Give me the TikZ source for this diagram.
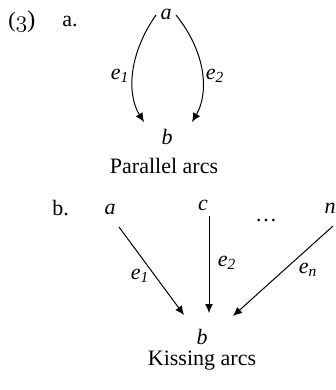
\documentclass[tikz,border=0pt]{standalone}
\usepackage{fontspec}
\setmainfont{Liberation Serif}
\usepackage{tikz}
\usetikzlibrary{arrows.meta}

\tikzset{
  arcline/.style={-{Latex[length=4.5pt, width=4pt]}, line width=0.5pt},
  vertex/.style={inner sep=0pt},
  edgelabel/.style={inner sep=0pt, font=\fontsize{11}{13}\selectfont\itshape},
  tag/.style={inner sep=0pt, anchor=base west}
}

\begin{document}
\begin{tikzpicture}[x=0.5pt, y=-0.5pt, font=\fontsize{11}{13}\selectfont]
  \useasboundingbox (0,0) rectangle (336,390);

  % --- (3) a. Parallel arcs ---
  \node[tag] (num) at (8,28) {(\fontsize{12}{13}\selectfont$\mathnormal{3}$)};
  \node[tag] (parta) at (62,27) {a.};

  \node[vertex] (pa) at (166,14) {\textit{a}};
  \node[vertex] (pb) at (167,137) {\textit{b}};

  \draw[arcline] ([xshift=-5pt, yshift=-0.5pt]pa.center) .. controls (128,55) and (127,95) .. ([xshift=-11.5pt, yshift=7.5pt]pb.center);
  \draw[arcline] ([xshift=5pt, yshift=-0.5pt]pa.center) .. controls (208,55) and (208,95) .. ([xshift=12.5pt, yshift=7.5pt]pb.center);

  \node[edgelabel] (pe1) at (120,76) {e\textsubscript{1}};
  \node[edgelabel] (pe2) at (215,76) {e\textsubscript{2}};

  \node[anchor=base] (ptitle) at (164,173) {Parallel arcs};

  % --- b. Kissing arcs ---
  \node[tag] (partb) at (52,215) {b.};

  \node[vertex] (ka) at (110,209) {\textit{a}};
  \node[vertex] (kc) at (203,205) {\textit{c}};
  \node[vertex] (kdots) at (266,221) {\dots};
  \node[vertex] (kn) at (330,208) {\textit{n}};
  \node[vertex] (kb) at (202,337) {\textit{b}};

  \draw[arcline] ([xshift=4.5pt, yshift=-9pt]ka.center) -- ([xshift=-9pt, yshift=11pt]kb.center);
  \draw[arcline] ([xshift=3pt, yshift=-5.5pt]kc.center) -- ([xshift=3.5pt, yshift=12pt]kb.center);
  \draw[arcline] ([xshift=1.5pt, yshift=-9pt]kn.center) -- ([xshift=15.5pt, yshift=10.5pt]kb.center);

  \node[edgelabel] (ke1) at (140,276) {e\textsubscript{1}};
  \node[edgelabel] (ke2) at (227,263) {e\textsubscript{2}};
  \node[edgelabel] (ken) at (308,270) {e\textsubscript{n}};

  \node[anchor=base] (ktitle) at (202,365) {Kissing arcs};

\end{tikzpicture}
\end{document}
